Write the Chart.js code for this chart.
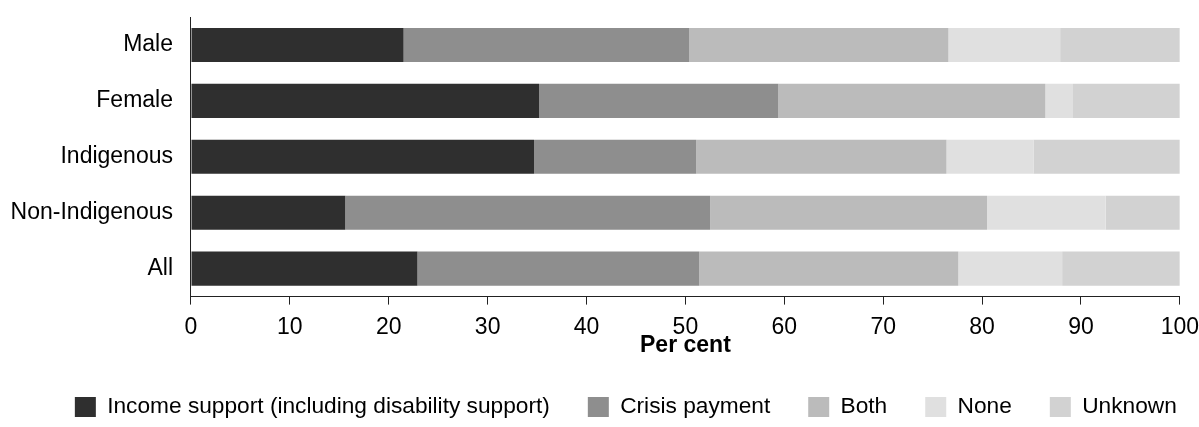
<!DOCTYPE html>
<html>
<head>
<meta charset="utf-8">
<script src="https://cdn.jsdelivr.net/npm/chart.js@4/dist/chart.umd.min.js"></script>
<style>
html, body { margin: 0; padding: 0; background: #ffffff; }
#wrap { width: 1199px; height: 427px; }
</style>
</head>
<body>
<div id="wrap"><canvas id="chart"></canvas></div>
<script>
const groups = ["Male", "Female", "Indigenous", "Non-Indigenous", "All"];
const seriesNames = ["Income support (including disability support)", "Crisis payment", "Both", "None", "Unknown"];
const incomeSupport = [21.5, 35.2, 34.7, 15.6, 22.9];
const crisisPayment = [28.9, 24.2, 16.4, 36.9, 28.5];
const both = [26.2, 27.0, 25.3, 28.0, 26.2];
const none = [11.3, 2.8, 8.8, 12.0, 10.5];
const unknown = [12.1, 10.8, 14.8, 7.5, 11.9];
const xTicks = [0, 10, 20, 30, 40, 50, 60, 70, 80, 90, 100];
const seriesColors = ["#2f2f2f", "#8e8e8e", "#bbbbbb", "#e0e0e0", "#d2d2d2"];

const fontFamily = "'Liberation Sans', Arial, sans-serif";
const axisColor = "#222222";

// legend in the reference sits a bit right of centre
const legendShift = {
id: "legendShift",
afterLayout(chart) {
if (chart.legend) {
chart.legend.left += 21;
chart.legend.right += 21;
}
}
};

const values = [incomeSupport, crisisPayment, both, none, unknown];
const datasets = [];
for (let i = 0; i < seriesNames.length; i++) {
datasets.push({
label: seriesNames[i],
data: values[i],
backgroundColor: seriesColors[i],
borderWidth: 0,
categoryPercentage: 1,
barPercentage: 0.61
});
}

new Chart(document.getElementById("chart"), {
type: "bar",
data: {
labels: groups,
datasets
},
options: {
indexAxis: "y",
responsive: true,
maintainAspectRatio: false,
animation: false,
layout: {
padding: { top: 17, left: 10.6, right: 0, bottom: -1.3 }
},
plugins: {
legend: {
position: "bottom",
labels: {
color: "#000000",
boxWidth: 21,
boxHeight: 20,
padding: 38,
font: { family: fontFamily, size: 22.7 }
}
},
tooltip: { enabled: false }
},
scales: {
x: {
stacked: true,
min: 0,
max: 100,
afterBuildTicks: scale => {
scale.ticks = xTicks.map(v => ({ value: v }));
},
grid: {
drawOnChartArea: false,
drawTicks: true,
tickLength: 8,
color: axisColor,
lineWidth: 1
},
border: { display: true, color: axisColor, width: 1 },
ticks: {
color: "#000000",
padding: 0,
maxRotation: 0,
font: { family: fontFamily, size: 23, lineHeight: 2 }
},
title: {
display: true,
text: "Per cent",
color: "#000000",
padding: { top: -16, bottom: 0 },
font: { family: fontFamily, size: 23, weight: "bold", lineHeight: 1 }
}
},
y: {
stacked: true,
grid: {
display: true,
drawOnChartArea: false,
drawTicks: true,
tickLength: 18,
tickColor: "rgba(0,0,0,0)"
},
border: { display: true, color: axisColor, width: 1 },
ticks: {
color: "#000000",
padding: 0,
font: { family: fontFamily, size: 23 }
}
}
}
},
plugins: [legendShift]
});
</script>
</body>
</html>
